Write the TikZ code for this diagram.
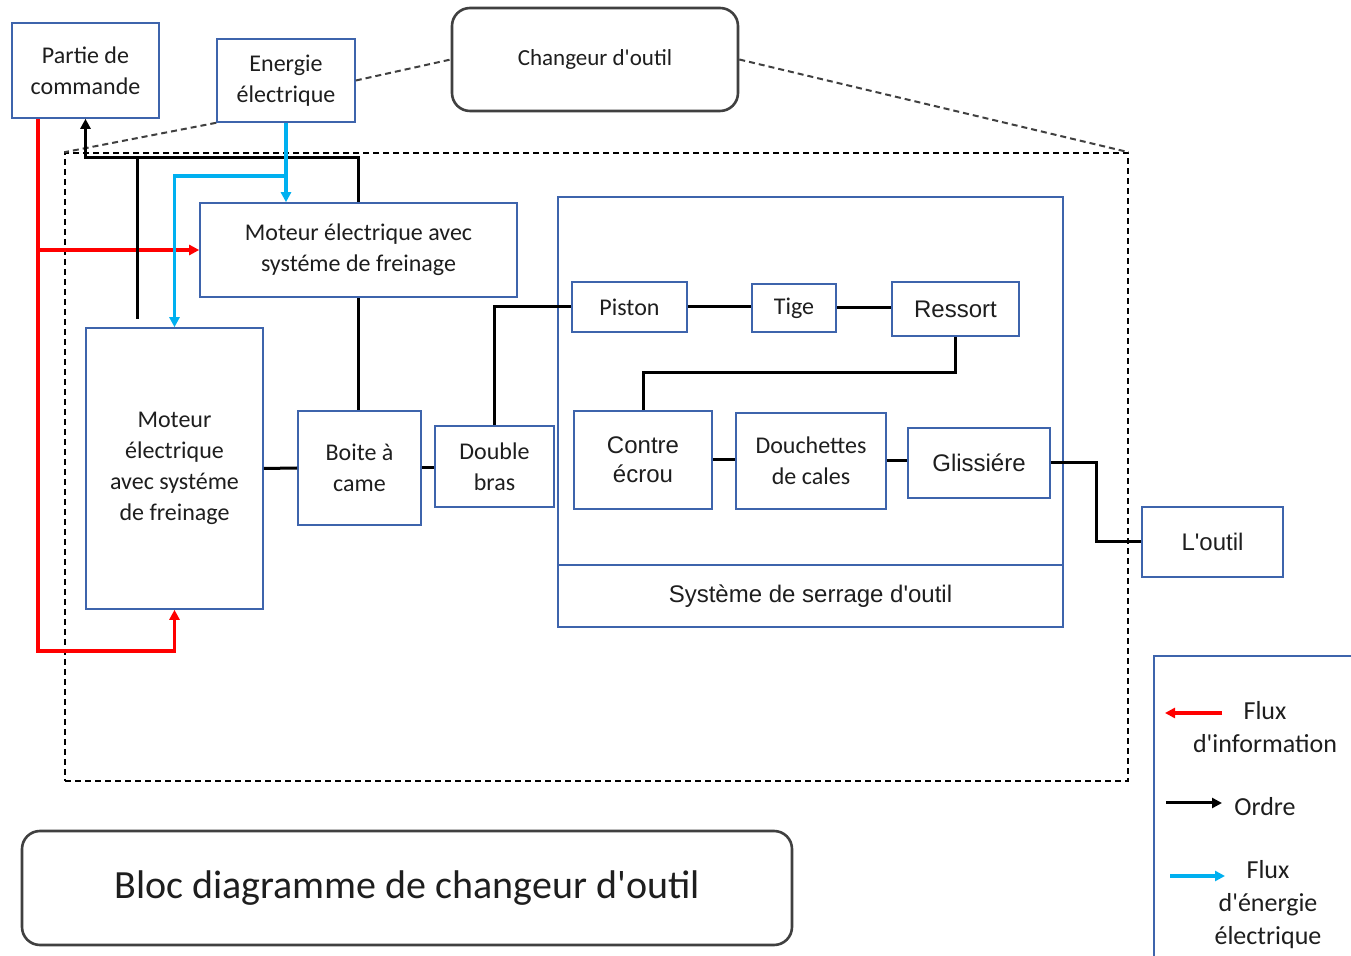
\documentclass[tikz,border=0pt]{standalone}
\usepackage{fontspec}
% Calibri-metric family loaded without TeX ligatures, so ' stays straight
\newfontfamily\calfont{Carlito}
\newfontfamily\arialfont{Liberation Sans}
\usetikzlibrary{arrows.meta}

\definecolor{boxblue}{RGB}{62,100,172}
\definecolor{inkred}{RGB}{255,0,0}
\definecolor{inkcyan}{RGB}{0,176,240}
\definecolor{txt}{RGB}{30,30,30}
\definecolor{frame}{RGB}{64,64,64}

\tikzset{
  blk/.style={draw=boxblue, line width=0.8pt, inner sep=0pt, align=center,
    text=txt, font=\calfont\fontsize{12}{15.5}\selectfont},
  ablk/.style={blk, font=\arialfont\fontsize{12}{14.5}\selectfont},
  rbox/.style={draw=frame, line width=1.3pt, rounded corners=9pt,
    inner sep=0pt, align=center, text=txt},
  tip/.style={-{Triangle[length=5pt,width=5pt]}},
  link/.style={line width=1.5pt, black},
  ordre/.style={link, tip},
  info/.style={line width=1.6pt, inkred},
  energ/.style={line width=1.6pt, inkcyan},
  guide/.style={draw=frame, dash pattern=on 3pt off 2pt, line width=1pt},
  outerbox/.style={draw=black, dash pattern=on 3pt off 2pt, line width=0.75pt},
  legtxt/.style={align=center, text=txt, inner sep=0pt,
    font=\calfont\fontsize{13}{16.5}\selectfont}
}

\begin{document}
\begin{tikzpicture}[x=0.5pt,y=-0.5pt]
\fill[white] (0,0) rectangle (1351,956);
\useasboundingbox (0,0) rectangle (1351,956);

% dashed boundary of the tool changer
\node[outerbox, minimum width=531.5pt, minimum height=314pt] (outer) at (596.5,467) {};

% blocks
\node[blk, minimum width=73.5pt, minimum height=47.5pt] (part) at (85.5,70.5) {Partie de\\commande};
\node[blk, minimum width=69pt, minimum height=41.5pt] (ener) at (286,80.5) {Energie\\électrique};
\node[rbox, minimum width=143pt, minimum height=51.5pt, font=\calfont\fontsize{11.5}{14}\selectfont] (chg) at (595,59.5) {Changeur d'outil};
\node[blk, minimum width=158.5pt, minimum height=47pt] (mtop) at (358.5,250) {Moteur électrique avec\\systéme de freinage};
\node[blk, minimum width=88.5pt, minimum height=140.5pt] (mleft) at (174.5,468.5) {Moteur\\électrique\\avec systéme\\de freinage};
\node[blk, minimum width=61.5pt, minimum height=57pt] (boite) at (359.5,468) {Boite à\\came};
\node[blk, minimum width=59.5pt, minimum height=40.5pt] (dbras) at (494.5,466.5) {Double\\bras};

% clamping system
\node[draw=boxblue, line width=1pt, minimum width=252.5pt, minimum height=215pt, inner sep=0pt] (sys) at (810.5,412) {};
\coordinate (sd) at (0,565);
\draw[draw=boxblue, line width=0.8pt] (sd -| sys.west) -- (sd -| sys.east);
\node[text=txt, inner sep=0pt, font=\arialfont\fontsize{12}{14}\selectfont] (syslbl) at (810.5,596) {Système de serrage d'outil};

\node[blk, minimum width=57.5pt, minimum height=25pt] (piston) at (629.5,307) {Piston};
\node[blk, minimum width=42pt, minimum height=24pt] (tige) at (794,308) {Tige};
\node[ablk, minimum width=63.5pt, minimum height=27pt] (ressort) at (955.5,309) {Ressort};
\node[ablk, minimum width=69pt, minimum height=49pt] (contre) at (643,460) {Contre\\écrou};
\node[blk, minimum width=75pt, minimum height=48pt] (douch) at (811,461) {Douchettes\\de cales};
\node[ablk, minimum width=71pt, minimum height=35pt] (gliss) at (979,463) {Glissiére};
\node[ablk, minimum width=70.5pt, minimum height=35pt] (outil) at (1212.5,542) {L'outil};

% title
\node[rbox, minimum width=385pt, minimum height=57pt, font=\calfont\fontsize{20}{24}\selectfont] (title) at (407,888) {Bloc diagramme de changeur d'outil};

% dashed guides to the changer label
\draw[guide] (ener.east) -- (chg.west);
\draw[guide] (chg.east) -- (outer.north east);
\draw[guide] (ener.south west) -- (outer.north west);

% information flow (red)
\coordinate (rx) at (38,0);
\coordinate (rb) at (0,651);
\draw[info, tip] (part.south -| rx) -- (rx |- rb) -| (mleft.south);
\draw[info, tip] (rx |- mtop.west) -- (mtop.west);

% orders (black)
\coordinate (ob) at (0,158);
\coordinate (oj) at (137,158);
\draw[ordre] (mtop.north) |- (ob -| part.south) -- (part.south);
\draw[link] (oj) -- ([yshift=4pt]oj |- mleft.north);

% electrical energy (cyan)
\coordinate (bj) at (0,176);
\draw[energ, tip] (ener.south) -- (ener.south |- mtop.north);
\draw[energ, tip] (ener.south |- bj) -| (mleft.north);

% mechanical chain
\draw[link] (mtop.south) -- (mtop.south |- boite.north);
\draw[link] (mleft.east) -- (boite.west);
\draw[link] (boite.east) -- (boite.east -| dbras.west);
\draw[link] (dbras.north) |- (piston.west);
\draw[link] (piston.east) -- (piston.east -| tige.west);
\draw[link] (tige.east) -- (tige.east -| ressort.west);
\coordinate (rj) at (0,373);
\draw[link] (ressort.south) -- (ressort.south |- rj) -| (contre.north);
\draw[link] (contre.east) -- (contre.east -| douch.west);
\draw[link] (douch.east) -- (douch.east -| gliss.west);
\coordinate (gj) at (1096,0);
\draw[link] (gliss.east) -- (gj |- gliss.east) |- (outil.west);

% legend
\draw[draw=boxblue, line width=0.8pt] (1154,956) |- (1351,656);
\node[legtxt] (lginfo) at (1265,727) {Flux\\d'information};
\node[legtxt] (lgordre) at (1265,807) {Ordre};
\node[legtxt] (lgener) at (1268,905) {Flux\\d'énergie\\électrique};
\coordinate (li1) at (1222,713);
\coordinate (li2) at (1165,713);
\coordinate (lo1) at (1166,803);
\coordinate (lo2) at (1222,803);
\coordinate (le1) at (1170,876);
\coordinate (le2) at (1225,876);
\draw[info, tip] (li1) -- (li2);
\draw[ordre] (lo1) -- (lo2);
\draw[energ, tip] (le1) -- (le2);
\end{tikzpicture}
\end{document}
